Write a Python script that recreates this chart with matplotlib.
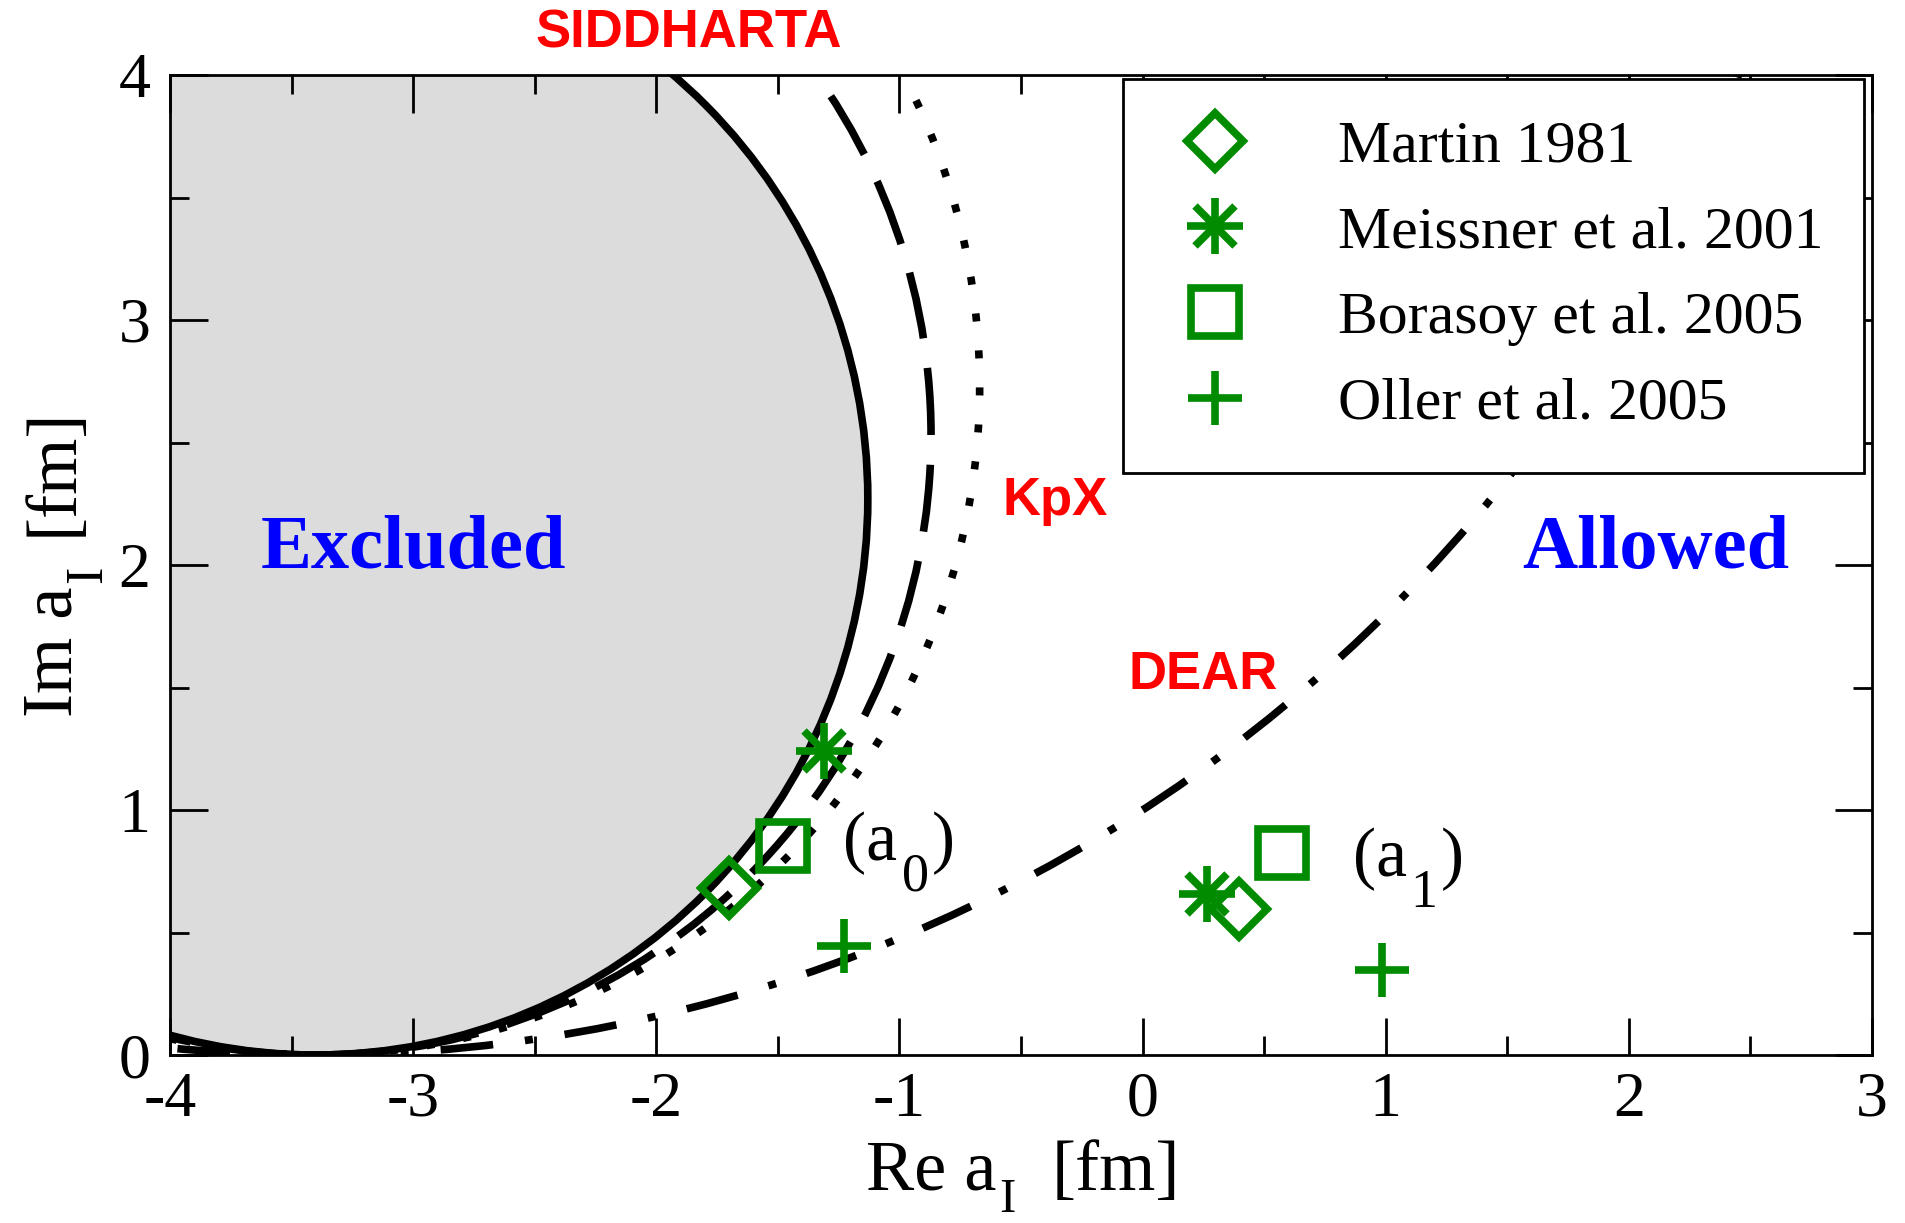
import numpy as np
import matplotlib
matplotlib.use("Agg")
import matplotlib.pyplot as plt
from matplotlib.patches import Circle
from matplotlib.lines import Line2D
from matplotlib.transforms import IdentityTransform

plt.rcParams['font.family'] = ['Liberation Serif', 'DejaVu Serif']
plt.rcParams['axes.unicode_minus'] = False

# model predictions for the isospin scattering lengths (fm)
models = ['Martin 1981', 'Meissner et al. 2001', 'Borasoy et al. 2005', 'Oller et al. 2005']
re_a0 = [-1.70, -1.31, -1.48, -1.23]
im_a0 = [0.68, 1.24, 0.855, 0.446]
re_a1 = [0.396, 0.265, 0.573, 0.984]
im_a1 = [0.597, 0.657, 0.826, 0.347]

# constraint circles, all touching the real axis at the same point
touch_re = -3.4
curve_radius = [2.27, 2.53, 2.73, 6.28]     # SIDDHARTA, SIDDHARTA err, KpX, DEAR
curve_style = ['-', (0, (8.8, 3.9)), (0, (1.05, 3.8)), (0, (6.9, 4.2, 1.05, 4.2))]

green = '#008b00'
lw = 5.5
W, H = 1906, 1223

fig = plt.figure(figsize=(W / 100, H / 100), dpi=100)
ax = fig.add_axes([170 / W, 1 - 1055 / H, 1702 / W, 980 / H])
ax.set_xlim(-4, 3)
ax.set_ylim(0, 4)


def sub_text(x, y_top, parts, fs, rotation=0, sub_scale=0.72, sub_drop=0.4):
    # parts: (text, is_subscript, gap after in px); placed centred on (x, y_top) in pixels
    r = fig.canvas.get_renderer()
    th = np.deg2rad(rotation)
    along = np.array([np.cos(th), np.sin(th)])
    down = np.array([np.sin(th), -np.cos(th)])
    em = fs * fig.dpi / 72
    sizes, widths = [], []
    for s, sub, gap in parts:
        size = fs * sub_scale if sub else fs
        t = fig.text(0, 0, s, fontsize=size)
        widths.append(t.get_window_extent(r).width + gap)
        t.remove()
        sizes.append(size)
    pos = np.array([x, H - y_top], float) - along * sum(widths) / 2
    for (s, sub, gap), size, w in zip(parts, sizes, widths):
        p = pos + down * (sub_drop * em if sub else 0)
        fig.text(p[0], p[1], s, fontsize=size, transform=IdentityTransform(),
                 rotation=rotation, rotation_mode='anchor', ha='left', va='baseline', zorder=7)
        pos = pos + along * w


# excluded region
ax.add_patch(Circle((touch_re, curve_radius[0]), curve_radius[0], facecolor='#dcdcdc',
                    edgecolor='none', zorder=1))
for r, ls in zip(curve_radius, curve_style):
    ax.add_patch(Circle((touch_re, r), r, fill=False, edgecolor='black', lw=lw,
                        linestyle=ls, capstyle='butt', zorder=2))

mk = dict(color=green, mfc='none', mec=green, mew=5.5, ls='none', zorder=4)
for re_pts, im_pts in [(re_a0, im_a0), (re_a1, im_a1)]:
    ax.plot(re_pts[0], im_pts[0], marker='D', ms=28.5, **mk)
    ax.plot(re_pts[1], im_pts[1], marker='+', ms=41, **mk)
    ax.plot(re_pts[1], im_pts[1], marker='x', ms=29, **mk)
    ax.plot(re_pts[2], im_pts[2], marker='s', ms=35, **mk)
    ax.plot(re_pts[3], im_pts[3], marker='+', ms=39, **mk)

handles = [
    Line2D([], [], marker='D', ms=28.5, **mk),
    (Line2D([], [], marker='+', ms=41, **mk), Line2D([], [], marker='x', ms=29, **mk)),
    Line2D([], [], marker='s', ms=35, **mk),
    Line2D([], [], marker='+', ms=39, **mk),
]
leg = ax.legend(handles, models, loc='upper right', bbox_to_anchor=(1694 / 1702, 976 / 980),
                borderaxespad=0, fontsize=43, frameon=True, fancybox=False, framealpha=1,
                borderpad=0.68, handlelength=1.72, handletextpad=1.2, labelspacing=0.52)
leg.get_frame().set_edgecolor('black')
leg.get_frame().set_linewidth(2)
leg.set_zorder(5)

# labels
red_kw = dict(color='red', fontweight='bold', family='Liberation Sans', fontsize=38,
              ha='center', va='center')
ax.text(-1.865, 4.171, 'SIDDHARTA', clip_on=False, **red_kw)
ax.text(-0.36, 2.262, 'KpX', **red_kw)
ax.text(0.25, 1.552, 'DEAR', **red_kw)
ax.text(-3.0, 2.063, 'Excluded', color='blue', fontweight='bold', fontsize=55,
        ha='center', va='center')
ax.text(2.11, 2.063, 'Allowed', color='blue', fontweight='bold', fontsize=55,
        ha='center', va='center')

sub_text(899, 860, [('(a', False, 4), ('0', True, 3), (')', False, 0)], 50,
         sub_scale=0.78, sub_drop=0.44)
sub_text(1408, 876, [('(a', False, 4), ('1', True, 3), (')', False, 0)], 50,
         sub_scale=0.78, sub_drop=0.44)
sub_text(1023, 1190, [('Re a', False, 3), ('I', True, 36), ('[fm]', False, 0)], 52,
         sub_scale=0.68, sub_drop=0.3)
sub_text(72, 562, [('Im a', False, 3), ('I', True, 30), ('[fm]', False, 0)], 52, rotation=90)

ax.set_xticks(range(-4, 4))
ax.set_yticks(range(0, 5))
ax.set_xticks([x + 0.5 for x in range(-4, 3)], minor=True)
ax.set_yticks([y + 0.5 for y in range(0, 4)], minor=True)
ax.tick_params(which='both', direction='in', top=True, right=True, width=2)
ax.tick_params(which='major', length=27, labelsize=46)
ax.tick_params(axis='x', which='major', pad=12)
ax.tick_params(axis='y', which='major', pad=14)
ax.tick_params(which='minor', length=13.5)
for s in ax.spines.values():
    s.set_linewidth(2)
    s.set_zorder(6)

fig.savefig('out.png', dpi=100)
